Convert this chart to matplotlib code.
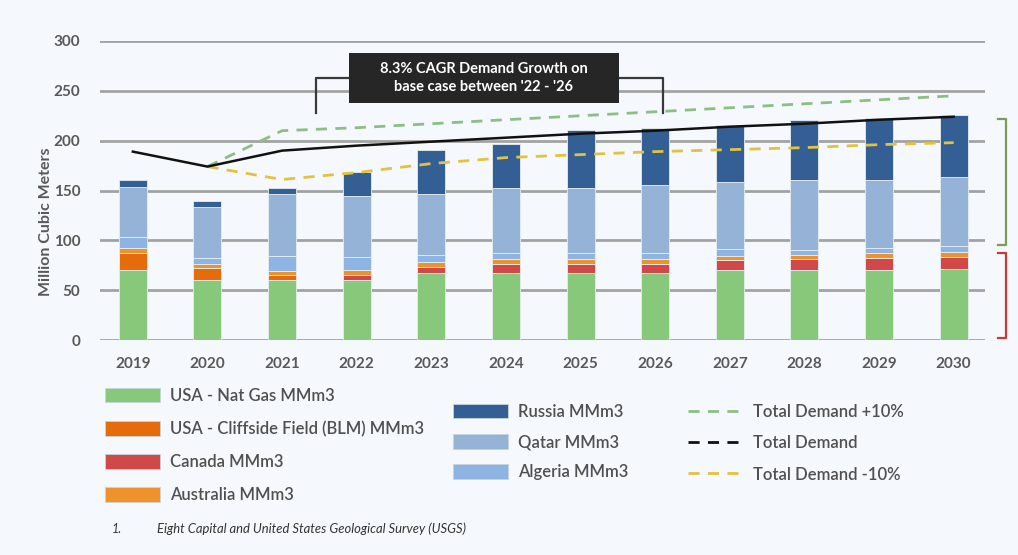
import matplotlib.pyplot as plt
import numpy as np
from matplotlib.lines import Line2D
from matplotlib.patches import Patch, Rectangle

years = ['2019', '2020', '2021', '2022', '2023', '2024', '2025', '2026', '2027', '2028', '2029', '2030']

usa_nat_gas = [70, 60, 60, 60, 67, 67, 67, 67, 70, 70, 70, 71]
usa_cliffside = [17.5, 12.5, 5.5, 0, 0, 0, 0, 0, 0, 0, 0, 0]
canada = [0, 0, 0, 5.5, 6.5, 9.5, 9.5, 9.5, 10, 11, 12, 12]
australia = [4.5, 4, 4, 4.5, 4.5, 4.5, 4.5, 4.5, 4.5, 4.5, 5, 5.5]
algeria = [11, 5.5, 14.5, 13, 7, 6, 6, 6, 6.5, 5, 5, 5.5]
qatar = [51, 51, 62.5, 61, 61, 66, 66, 68.5, 67.5, 70, 68.5, 70]
russia = [7, 6, 6.5, 25, 45, 44, 58, 57, 57.5, 60, 62, 62]

total_demand = [189, 174, 190, 195, 199, 203, 207, 210, 214, 217, 221, 224]
demand_plus10 = [None, 174, 210, 213, 217, 221, 225, 229, 233, 237, 241, 245]
demand_minus10 = [None, 174, 161, 168, 177, 183, 186, 189, 191, 193, 196, 198]

bar_series = [
    ('USA - Nat Gas MMm3', usa_nat_gas, '#88c87a'),
    ('USA - Cliffside Field (BLM) MMm3', usa_cliffside, '#e46c0a'),
    ('Canada MMm3', canada, '#d04848'),
    ('Australia MMm3', australia, '#f0922b'),
    ('Algeria MMm3', algeria, '#8db4e2'),
    ('Qatar MMm3', qatar, '#95b3d7'),
    ('Russia MMm3', russia, '#335f95'),
]

bg = '#f5f8fd'
txt = '#595959'
plt.rcParams['font.family'] = ['Lato', 'DejaVu Sans']

fig = plt.figure(figsize=(10.18, 5.55), dpi=100, facecolor=bg)
ax = fig.add_axes([100 / 1018, 1 - 340 / 555, 885 / 1018, 299 / 555])
ax.set_facecolor(bg)

x = np.arange(len(years))
bottom = np.zeros(len(years))
handles = {}
for name, vals, col in bar_series:
    vals = np.array(vals, dtype=float)
    ax.bar(x, vals, 0.375, bottom=bottom, color=col, edgecolor='#e6eef0', linewidth=0.6, zorder=3)
    handles[name] = Patch(facecolor=col, edgecolor='#c8d4dc', linewidth=0.6)
    bottom += vals

def to_arr(v):
    return np.array([np.nan if a is None else a for a in v], dtype=float)

ax.plot(x, to_arr(demand_plus10), color='#8dbf84', lw=2, dashes=(4, 3), zorder=4)
ax.plot(x, to_arr(demand_minus10), color='#e2c340', lw=2, dashes=(4, 3), zorder=4)
ax.plot(x, total_demand, color='#111111', lw=1.8, zorder=5)

ax.set_ylim(0, 300)
ax.set_xlim(-0.44, 11.42)
ax.set_yticks(range(0, 301, 50))
ax.grid(axis='y', color='#a3a3a3', lw=2, zorder=0)
for s in ax.spines.values():
    s.set_visible(False)
ax.tick_params(axis='both', length=0, colors=txt, labelsize=11, pad=12)
ax.set_xticks(x)
ax.set_xticklabels(years, fontweight='bold')
for lb in ax.get_yticklabels():
    lb.set_fontweight('bold')
ax.tick_params(axis='y', pad=14)
ax.set_ylabel('Million Cubic Meters', color=txt, fontsize=11.5, fontweight='bold')
ax.yaxis.set_label_coords(-0.053, 0.395)

# annotation box
fig.patches.append(Rectangle((349 / 1018, 1 - 103 / 555), 270 / 1018, 50 / 555,
                             transform=fig.transFigure, facecolor='#262626', edgecolor='none', zorder=5))
fig.text(484 / 1018, 1 - 78 / 555, "8.3% CAGR Demand Growth on\nbase case between '22 - '26",
         ha='center', va='center', color='white', fontsize=10.5, fontweight='bold', linespacing=1.4, zorder=6)
ax.plot([2.45, 2.45, 2.9], [228, 263, 263], color='#3a3a3a', lw=1.6, clip_on=False, zorder=4)
ax.plot([6.5, 7.1, 7.1], [263, 263, 228], color='#3a3a3a', lw=1.6, clip_on=False, zorder=4)

# right brackets
tr = ax.get_yaxis_transform()
ax.plot([1.015, 1.024, 1.024, 1.015], [222, 222, 95.5, 95.5], color='#7d9c52', lw=1.6,
        transform=tr, clip_on=False, solid_joinstyle='round')
ax.plot([1.015, 1.024, 1.024, 1.015], [87.5, 87.5, 2, 2], color='#c73a3a', lw=1.6,
        transform=tr, clip_on=False, solid_joinstyle='round')

leg_kw = dict(frameon=False, fontsize=12, labelcolor='#505050', borderpad=0, borderaxespad=0,
              handlelength=3.3, handleheight=0.95, handletextpad=0.6)
leg1_names = ['USA - Nat Gas MMm3', 'USA - Cliffside Field (BLM) MMm3', 'Canada MMm3', 'Australia MMm3']
leg1 = fig.legend([handles[n] for n in leg1_names], leg1_names, loc='upper left',
                  bbox_to_anchor=(105 / 1018, 1 - 388 / 555), labelspacing=1.02, **leg_kw)
leg2_names = ['Russia MMm3', 'Qatar MMm3', 'Algeria MMm3']
leg2 = fig.legend([handles[n] for n in leg2_names], leg2_names, loc='upper left',
                  bbox_to_anchor=(453 / 1018, 1 - 404 / 555), labelspacing=0.85, **leg_kw)
line_handles = [Line2D([], [], color='#8dbf84', lw=2, dashes=(4, 3)),
                Line2D([], [], color='#111111', lw=2, dashes=(4, 3)),
                Line2D([], [], color='#e2c340', lw=2, dashes=(4, 3))]
leg3 = fig.legend(line_handles, ['Total Demand +10%', 'Total Demand', 'Total Demand -10%'],
                  loc='upper left', bbox_to_anchor=(688 / 1018, 1 - 404 / 555), labelspacing=0.92, **leg_kw)
for t in leg1.get_texts() + leg2.get_texts() + leg3.get_texts():
    t.set_fontweight('semibold')

fig.text(112 / 1018, 1 - 529 / 555, '1.', fontsize=9, style='italic', color='#333333', va='center')
fig.text(157 / 1018, 1 - 529 / 555, 'Eight Capital and United States Geological Survey (USGS)',
         fontsize=9.4, style='italic', color='#333333', va='center')

fig.savefig('out.png', dpi=100, facecolor=bg)
